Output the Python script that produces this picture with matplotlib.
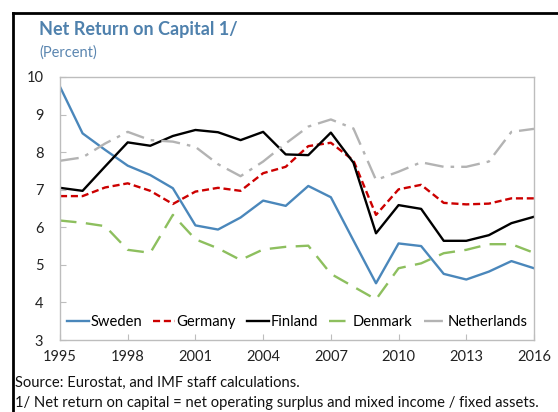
import matplotlib
matplotlib.use("Agg")
import matplotlib.pyplot as plt
from matplotlib.lines import Line2D

plt.rcParams['font.family'] = ['Lato', 'DejaVu Sans']

years = list(range(1995, 2017))

sweden = [9.74, 8.50, 8.06, 7.64, 7.39, 7.04, 6.05, 5.94, 6.26, 6.71, 6.57, 7.10,
          6.80, 5.65, 4.51, 5.57, 5.50, 4.76, 4.61, 4.82, 5.10, 4.91]
germany = [6.83, 6.83, 7.06, 7.17, 6.97, 6.62, 6.95, 7.05, 6.97, 7.44, 7.61, 8.16,
           8.25, 7.78, 6.33, 7.01, 7.13, 6.65, 6.61, 6.63, 6.77, 6.77]
finland = [7.05, 6.97, 7.62, 8.26, 8.17, 8.43, 8.59, 8.53, 8.32, 8.54, 7.94, 7.92,
           8.52, 7.72, 5.84, 6.59, 6.49, 5.64, 5.64, 5.79, 6.11, 6.28]
denmark = [6.18, 6.12, 6.03, 5.40, 5.32, 6.33, 5.68, 5.44, 5.13, 5.41, 5.48, 5.51,
           4.76, 4.42, 4.08, 4.91, 5.04, 5.31, 5.40, 5.55, 5.55, 5.32]
netherlands = [7.77, 7.86, 8.23, 8.54, 8.32, 8.28, 8.14, 7.68, 7.36, 7.75, 8.23, 8.68,
               8.87, 8.63, 7.26, 7.48, 7.73, 7.61, 7.61, 7.75, 8.54, 8.62]

W, H = 558, 412
fig = plt.figure(figsize=(W / 100, H / 100), dpi=100)

# outer black border (top and left only visible)
fig.add_artist(Line2D([12.5 / W, 1.0], [1 - 12.5 / H, 1 - 12.5 / H], color='black', lw=2))
fig.add_artist(Line2D([12.5 / W, 12.5 / W], [0.0, 1 - 12.5 / H], color='black', lw=2))

ax = fig.add_axes([60 / W, (H - 340) / H, (534 - 60) / W, (340 - 77) / H])

lw = 1.7
ax.plot(years, sweden, color='#4a87bb', lw=lw, label='Sweden')
ax.plot(years, germany, color='#cc0000', lw=lw, ls=(0, (3, 1.6)), label='Germany')
ax.plot(years, finland, color='black', lw=lw, label='Finland')
ax.plot(years, denmark, color='#8dbf5e', lw=lw, ls=(0, (7, 4)), label='Denmark')
ax.plot(years, netherlands, color='#b3b3b3', lw=lw, ls=(0, (8, 3, 1.5, 3)), label='Netherlands')

ax.set_xlim(1995, 2016)
ax.set_ylim(3, 10)
ax.set_xticks(range(1995, 2017, 3))
ax.set_yticks(range(3, 11))
for s in ax.spines.values():
    s.set_color('#bdbdbd')
    s.set_linewidth(1.0)
ax.tick_params(direction='in', length=4, color='#bdbdbd', labelsize=10.5, labelcolor='#222222')
ax.tick_params(axis='x', pad=7)
ax.tick_params(axis='y', pad=12)

ax.legend(loc='lower center', ncol=5, frameon=False, fontsize=10.6, handlelength=1.5,
          handletextpad=0.1, columnspacing=0.75, bbox_to_anchor=(0.5, 0.0), borderaxespad=0.35)

fig.text(39 / W, 1 - 30 / H, 'Net Return on Capital 1/', fontsize=13, fontweight='bold',
         color='#4f81ad', va='center', ha='left')
fig.text(39 / W, 1 - 53 / H, '(Percent)', fontsize=10.5, color='#5b86b0', va='center', ha='left')
fig.text(15 / W, 1 - 383 / H, 'Source: Eurostat, and IMF staff calculations.', fontsize=10.6,
         color='#111111', va='center', ha='left')
fig.text(15 / W, 1 - 403 / H,
         '1/ Net return on capital = net operating surplus and mixed income / fixed assets.',
         fontsize=10.6, color='#111111', va='center', ha='left')

fig.savefig('out.png', dpi=100)
